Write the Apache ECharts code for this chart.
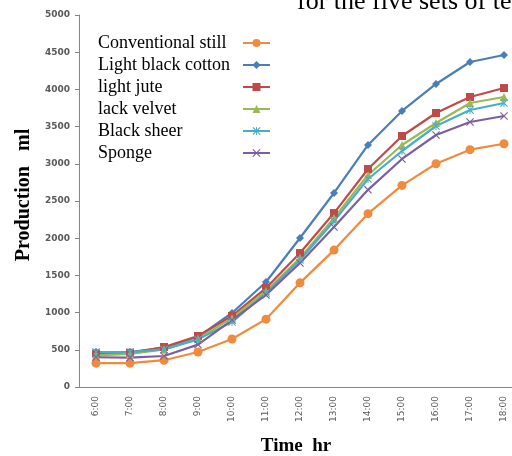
<!DOCTYPE html>
<html><head><meta charset="utf-8">
<script src="https://cdn.jsdelivr.net/npm/echarts@6/dist/echarts.min.js"></script>
<style>html,body{margin:0;padding:0;background:#fff}#c{width:512px;height:456px}</style>
</head><body><div id="c"></div>
<script>
const categories = ['6:00','7:00','8:00','9:00','10:00','11:00','12:00','13:00','14:00','15:00','16:00','17:00','18:00'];
const conventionalStill = [320, 320, 360, 470, 645, 912, 1400, 1840, 2330, 2710, 3000, 3190, 3270];
const lightBlackCotton = [470, 470, 525, 675, 995, 1411, 2003, 2608, 3253, 3710, 4073, 4368, 4462];
const lightJute = [450, 460, 538, 686, 955, 1330, 1800, 2338, 2930, 3374, 3683, 3898, 4018];
const lackVelvet = [425, 445, 505, 650, 925, 1290, 1734, 2270, 2850, 3253, 3548, 3817, 3898];
const blackSheer = [470, 470, 505, 640, 873, 1263, 1707, 2230, 2796, 3172, 3508, 3723, 3817];
const sponge = [400, 395, 417, 570, 900, 1237, 1667, 2150, 2650, 3065, 3387, 3562, 3642];
const yTicks = {min: 0, max: 5000, step: 500};

const STAR = 'path://M0,1 L1,0 L10,9 L9,10 Z M9,0 L10,1 L1,10 L0,9 Z M4.4,0 L5.6,0 L5.6,10 L4.4,10 Z';
const CROSS = 'path://M0,1 L1,0 L10,9 L9,10 Z M9,0 L10,1 L1,10 L0,9 Z';

const defs = [
  {name: 'Conventional still', data: conventionalStill, color: '#F08A3C', symbol: 'circle', size: 9},
  {name: 'Light black cotton', data: lightBlackCotton, color: '#4A7EBB', symbol: 'diamond', size: 8},
  {name: 'light jute', data: lightJute, color: '#BE4B48', symbol: 'rect', size: 8},
  {name: 'lack velvet', data: lackVelvet, color: '#98B954', symbol: 'triangle', size: 8},
  {name: 'Black sheer', data: blackSheer, color: '#4BACC6', symbol: STAR, size: 8},
  {name: 'Sponge', data: sponge, color: '#7D5FA0', symbol: CROSS, size: 8}
];

const chart = echarts.init(document.getElementById('c'), null, {renderer: 'canvas'});
chart.setOption({
  animation: false,
  backgroundColor: '#fff',
  grid: {left: 79, top: 15, width: 442, bottom: 69, containLabel: false, outerBoundsMode: 'none'},
  legend: {
    orient: 'vertical', left: 98, top: 34, align: 'right', padding: 0,
    itemWidth: 27, itemHeight: 10, itemGap: 4,
    formatter: '{t|{name}}',
    textStyle: {
      fontFamily: 'Liberation Serif', fontSize: 18, color: '#000',
      rich: {t: {width: 140, align: 'left', fontFamily: 'Liberation Serif', fontSize: 18, color: '#000'}}
    },
    data: defs.map(d => d.name)
  },
  graphic: [{
    type: 'text', left: 297, top: -11,
    style: {text: 'for the five sets of te', font: '26px "Liberation Serif"', fill: '#000'}
  }],
  xAxis: {
    type: 'category', data: categories, boundaryGap: true,
    name: 'Time  hr', nameLocation: 'middle', nameGap: 50,
    nameTextStyle: {fontFamily: 'Liberation Serif', fontWeight: 'bold', fontSize: 19, color: '#000', padding: [0, 8, 0, 0]},
    axisLine: {lineStyle: {color: '#868686', width: 1}},
    axisTick: {alignWithLabel: false, length: 4, lineStyle: {color: '#868686'}},
    axisLabel: {rotate: 90, fontSize: 9, color: '#595959', fontFamily: 'DejaVu Sans', margin: 9, interval: 0},
    splitLine: {show: false}
  },
  yAxis: {
    type: 'value', min: yTicks.min, max: yTicks.max, interval: yTicks.step,
    name: 'Production   ml', nameLocation: 'middle', nameGap: 42, nameRotate: 90,
    nameTextStyle: {fontFamily: 'Liberation Serif', fontWeight: 'bold', fontSize: 20, color: '#000', padding: [0, 0, 0, 12]},
    axisLine: {show: true, lineStyle: {color: '#868686', width: 1}},
    axisTick: {show: true, length: 4, lineStyle: {color: '#868686'}},
    axisLabel: {fontSize: 9, color: '#595959', fontFamily: 'DejaVu Sans', fontWeight: 'bold', margin: 9,
      formatter: v => String(v)},
    splitLine: {show: false}
  },
  series: defs.map(d => ({
    name: d.name, type: 'line', data: d.data,
    symbol: d.symbol, symbolSize: d.size, showAllSymbol: true,
    lineStyle: {color: d.color, width: 2.2},
    itemStyle: {color: d.color, borderColor: d.color, borderWidth: 0},
    emphasis: {disabled: true}
  }))
});
</script></body></html>
